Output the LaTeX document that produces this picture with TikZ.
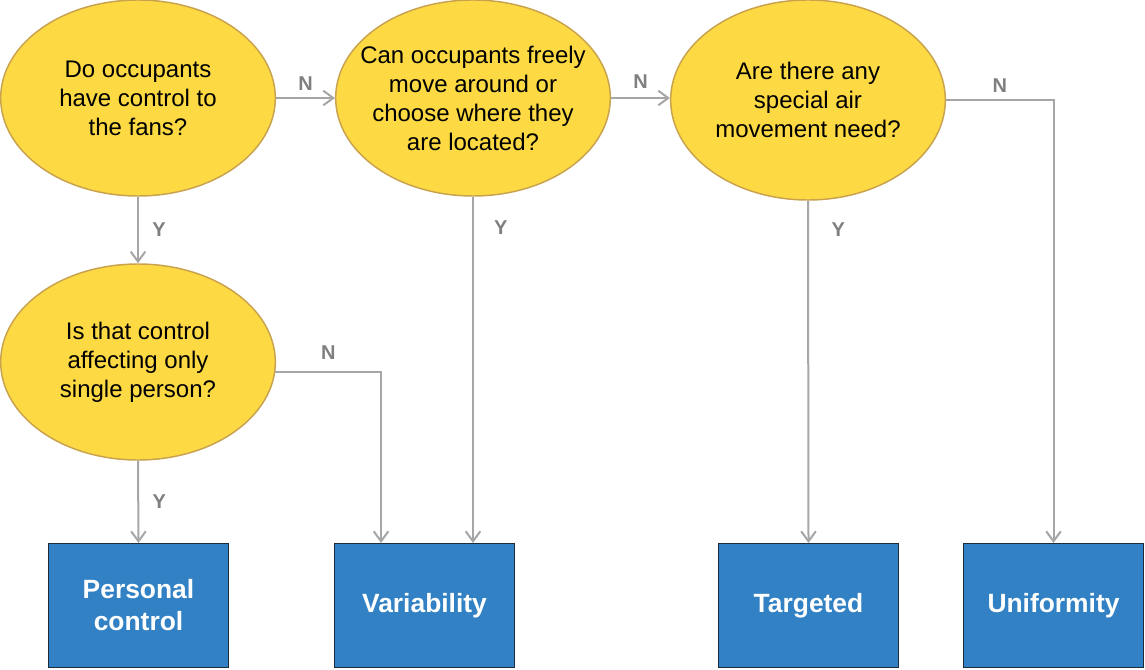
\documentclass[tikz,border=0pt]{standalone}
\usepackage{fontspec}
\setmainfont{Liberation Sans}
\usetikzlibrary{arrows.meta,calc,shapes.geometric}
\definecolor{qfill}{HTML}{FDDA44}
\definecolor{qline}{HTML}{C9A24E}
\definecolor{afill}{HTML}{3181C4}
\definecolor{aline}{HTML}{1E2B38}
\definecolor{flowgray}{HTML}{A6A6A6}
\definecolor{lblgray}{HTML}{7F7F7F}
\begin{document}
\begin{tikzpicture}[x=0.75pt, y=-0.75pt,
        question/.style = {shape=ellipse, draw=qline, fill=qfill, line width=1.1pt,
            minimum width=206pt, minimum height=147pt, inner sep=-40pt, align=center,
            font=\fontsize{18}{21.75}\selectfont},
        answer/.style = {shape=rectangle, draw=aline, fill=afill, line width=0.8pt,
            minimum width=135pt, minimum height=93pt, align=center, text=white,
            font=\bfseries\fontsize{19.8}{24}\selectfont},
        flow/.style = {draw=flowgray, line width=1.5pt,
            -{Straight Barb[length=7.5pt,width=11pt]}},
        lbl/.style = {text=lblgray, inner sep=0pt,
            font=\bfseries\fontsize{15}{18}\selectfont}]
    \useasboundingbox (0,0) rectangle (1145,670);
    % questions
    \node[question] (fans) at (138,98) {Do occupants\\have control to\\the fans?};
    \node[question] (move) at (473,98) {Can occupants freely\\move around or\\choose where they\\are located?};
    \node[question, minimum height=150pt] (need) at (808,100) {Are there any\\special air\\movement need?};
    \node[question] (single) at (138,362) {Is that control\\affecting only\\single person?};
    % answers
    \node[answer] (personal) at (138.5,605.5) {Personal\\control};
    \node[answer] (vary) at (424.5,605.5) {Variability};
    \node[answer] (target) at (808.5,605.5) {Targeted};
    \node[answer] (unif) at (1053.5,605.5) {Uniformity};
    % connectors
    \draw[flow] (fans.east) -- node[lbl, above=5pt] {N} (move.west);
    \draw[flow] (move.east) -- node[lbl, above=6pt] {N} (move.east -| need.west);
    \draw[flow] (need.east) -| node[lbl, above=5pt, pos=0.25] {N} (unif.north);
    \draw[flow] (fans.south) -- node[lbl, right=10pt] {Y} (single.north);
    \draw[flow] (move.south) -- node[lbl, right=15pt, pos=0.09] {Y} (move.south |- vary.north);
    \draw[flow] (need.south) -- node[lbl, right=17pt, pos=0.085] {Y} (target.north);
    \draw[flow] (single.south) -- node[lbl, right=10pt] {Y} (personal.north);
    \draw[flow] (single.-4) -| node[lbl, above=8pt, pos=0.25] {N}
        ($(vary.north west)!0.26!(vary.north east)$);
\end{tikzpicture}
\end{document}
